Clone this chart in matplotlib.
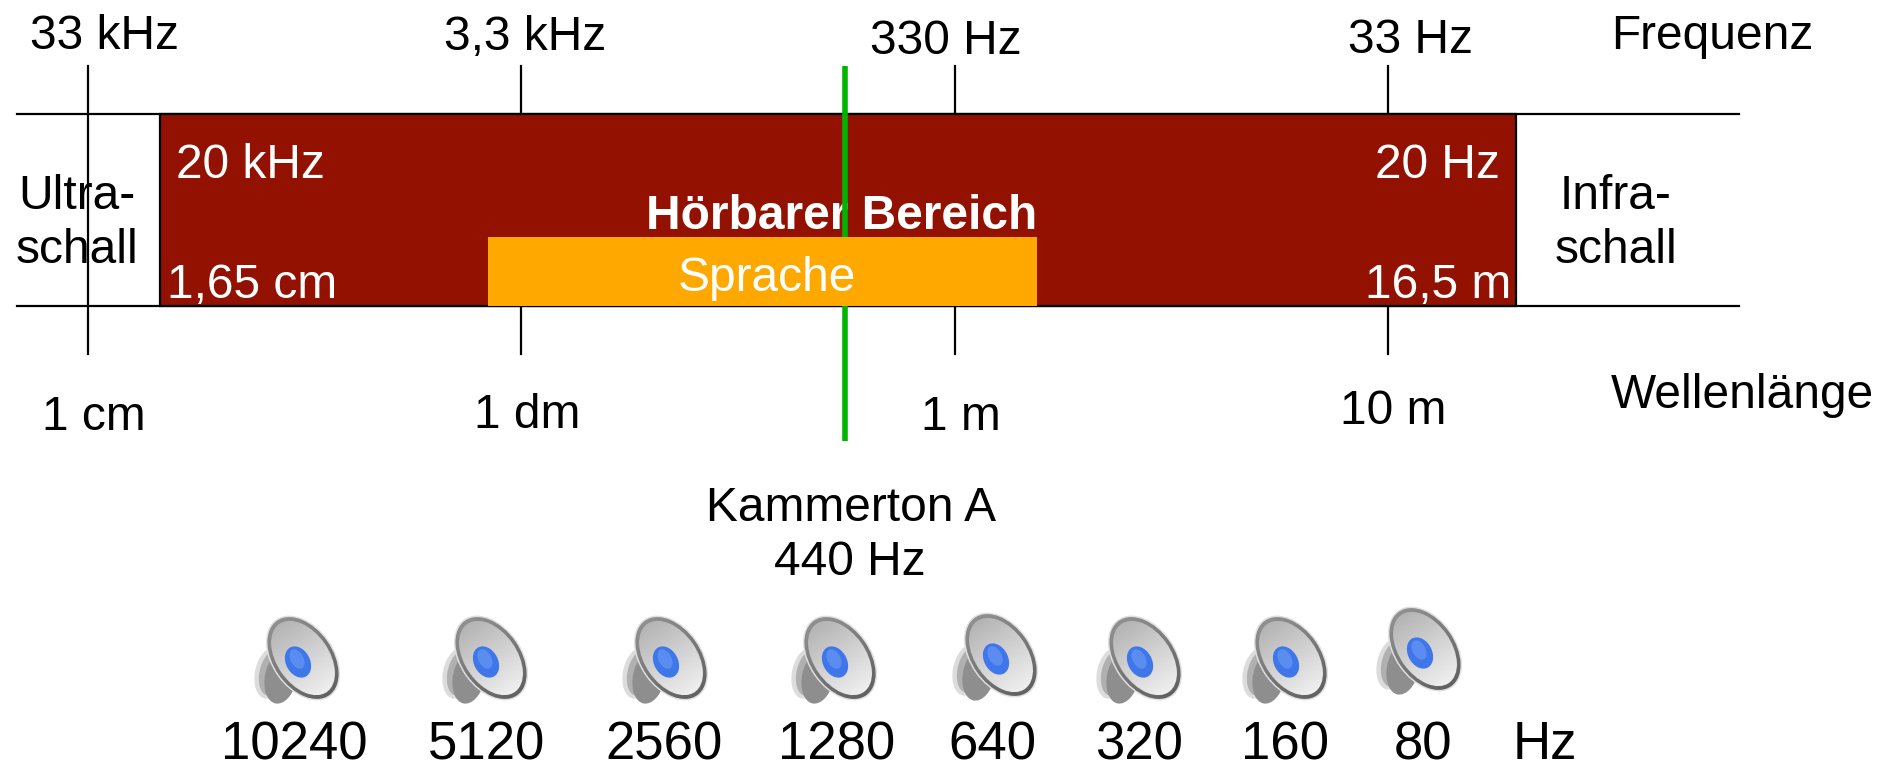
#!/usr/bin/env python3
# -*- coding: utf-8 -*-

import matplotlib
matplotlib.use('Agg')
import matplotlib.pyplot as plt
import numpy as np
from matplotlib.patches import Ellipse, Rectangle

plt.rcParams['font.family'] = ['Liberation Sans', 'DejaVu Sans']

W, H = 1897, 764
FS = 34.5
FS_BIG = 38

# scale axis, all in picture pixels
band_top, band_bottom = 114, 306
band_left, band_right = 17, 1739
audible_left, audible_right = 160, 1516
speech_left, speech_right, speech_top = 488, 1037, 237
tick_x = [88, 521, 955, 1388]
tick_top, tick_bottom = 66, 354
a_x, a_top, a_bottom = 845, 66, 441

freq_labels = ['33 kHz', '3,3 kHz', '330 Hz', '33 Hz']
freq_x = [104, 525, 946, 1410]
freq_y = [49, 50, 54, 53]
wave_labels = ['1 cm', '1 dm', '1 m', '10 m']
wave_x = [94, 527, 961, 1393]
wave_y = [430, 428, 430, 424]

speaker_labels = ['10240', '5120', '2560', '1280', '640', '320', '160', '80']
speaker_label_x = [294, 487, 664, 837, 992, 1139, 1285, 1423]
speaker_x = [303, 491, 671, 840, 1001, 1145, 1291, 1425]
speaker_y = [658, 658, 658, 658, 655, 658, 658, 649]

RED = '#921100'
ORANGE = '#ffa800'
GREEN = '#00b400'

fig = plt.figure(figsize=(W / 100, H / 100), dpi=100)
ax = fig.add_axes([0, 0, 1, 1])


def shaded_ellipse(cx, cy, width, height, angle, start, stop, z):
    # grey ellipse, shade running from start (upper left) to stop (lower right)
    grad = np.linspace(0, 1, 64)
    xx, yy = np.meshgrid(grad, grad)
    r = max(width, height) / 2
    im = ax.imshow(start + (stop - start) * (0.4 * xx + 0.6 * yy), cmap='gray', vmin=0, vmax=1,
                   interpolation='bilinear', extent=[cx - r, cx + r, cy + r, cy - r],
                   aspect='auto', zorder=z)
    im.set_clip_path(Ellipse((cx, cy), width, height, angle=angle, transform=ax.transData))


def speaker(cx, cy):
    # speaker body behind the cone, soft edge by a pale halo
    ax.add_patch(Ellipse((cx - 33, cy + 15), 30, 52, angle=12, fc='#dcdcdc', ec='none', zorder=8))
    ax.add_patch(Ellipse((cx - 31, cy + 15), 25, 46, angle=12, fc='#b0b0b0', ec='none', zorder=8.1))
    ax.add_patch(Ellipse((cx - 22, cy + 19), 32, 54, angle=12, fc='#8e8e8e', ec='none', zorder=8.2))
    # rim and cone
    ax.add_patch(Ellipse((cx, cy), 94, 62, angle=55, fc='#e0e0e0', ec='none', zorder=8.9))
    shaded_ellipse(cx, cy, 91, 59, 55, 0.60, 0.35, 9)
    shaded_ellipse(cx, cy, 83, 52, 55, 0.66, 0.98, 10)
    # blue dust cap
    ax.add_patch(Ellipse((cx - 5, cy + 4), 33, 24, angle=62, fc='#3f76ea', ec='none', zorder=11))
    ax.add_patch(Ellipse((cx - 6, cy + 1), 21, 13, angle=62, fc='#5b8df0', ec='none', zorder=12))


# band lines
for y in [band_top, band_bottom]:
    ax.plot([band_left, band_right], [y, y], color='black', lw=1.6, zorder=1)

# ticks
for x in tick_x:
    ax.plot([x, x], [tick_top, tick_bottom], color='black', lw=1.6, zorder=1)

# audible range
ax.add_patch(Rectangle((audible_left, band_top), audible_right - audible_left, band_bottom - band_top,
                       fc=RED, ec='black', lw=1.6, zorder=2))

ax.text(842, 229, 'Hörbarer Bereich', color='white', fontsize=FS, fontweight='bold',
        ha='center', va='baseline', zorder=3)

# concert pitch line
ax.plot([a_x, a_x], [a_top, a_bottom], color=GREEN, lw=4, solid_capstyle='butt', zorder=4)

# speech range
ax.add_patch(Rectangle((speech_left, speech_top), speech_right - speech_left, band_bottom - speech_top,
                       fc=ORANGE, ec='none', zorder=5))
ax.text(767, 291, 'Sprache', color='white', fontsize=FS, ha='center', va='baseline', zorder=6)

for lab, x, y in zip(freq_labels, freq_x, freq_y):
    ax.text(x, y, lab, fontsize=FS, ha='center', va='baseline', zorder=6)
for lab, x, y in zip(wave_labels, wave_x, wave_y):
    ax.text(x, y, lab, fontsize=FS, ha='center', va='baseline', zorder=6)

ax.text(1611, 49, 'Frequenz', fontsize=FS, ha='left', va='baseline', zorder=6)
ax.text(1611, 408, 'Wellenlänge', fontsize=FS, ha='left', va='baseline', zorder=6)

ax.text(77, 209, 'Ultra-', fontsize=FS, ha='center', va='baseline', zorder=0)
ax.text(77, 263, 'schall', fontsize=FS, ha='center', va='baseline', zorder=0)
ax.text(1616, 209, 'Infra-', fontsize=FS, ha='center', va='baseline', zorder=6)
ax.text(1616, 263, 'schall', fontsize=FS, ha='center', va='baseline', zorder=6)

ax.text(176, 178, '20 kHz', color='white', fontsize=FS, ha='left', va='baseline', zorder=6)
ax.text(167, 298, '1,65 cm', color='white', fontsize=FS, ha='left', va='baseline', zorder=6)
ax.text(1500, 178, '20 Hz', color='white', fontsize=FS, ha='right', va='baseline', zorder=6)
ax.text(1511, 298, '16,5 m', color='white', fontsize=FS, ha='right', va='baseline', zorder=6)

ax.text(851, 521, 'Kammerton A', fontsize=FS, ha='center', va='baseline', zorder=6)
ax.text(850, 575, '440 Hz', fontsize=FS, ha='center', va='baseline', zorder=6)

for x, y in zip(speaker_x, speaker_y):
    speaker(x, y)
for lab, x in zip(speaker_labels, speaker_label_x):
    ax.text(x, 759, lab, fontsize=FS_BIG, ha='center', va='baseline', zorder=6)
ax.text(1545, 759, 'Hz', fontsize=FS_BIG, ha='center', va='baseline', zorder=6)

ax.set_xlim(0, W)
ax.set_ylim(H, 0)
ax.axis('off')

plt.savefig('out.png', dpi=100)
